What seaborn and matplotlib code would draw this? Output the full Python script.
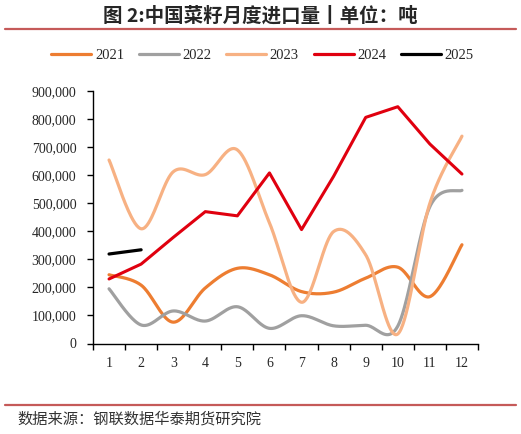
import numpy as np
import pandas as pd
import matplotlib
matplotlib.use("Agg")
import matplotlib.pyplot as plt
from matplotlib.ticker import FuncFormatter, FixedLocator
from matplotlib.lines import Line2D
import seaborn as sns

# ---- data ----
months = list(range(1, 13))
month_labels = [str(m) for m in months]
v2021 = [245000, 208000, 76000, 198000, 268000, 245000, 185000, 183000, 233000, 272000, 167000, 352000]
v2022 = [195000, 66000, 116000, 80000, 131000, 54000, 99000, 63000, 65000, 62000, 488000, 546000]
v2023 = [654000, 409000, 612000, 602000, 690000, 430000, 147000, 399000, 316000, 34000, 500000, 739000]
v2024 = [230000, 283000, 378000, 470000, 455000, 608000, 406000, 596000, 806000, 844000, 711000, 604000]
v2025 = [319000, 334000]
series_names = ["2021", "2022", "2023", "2024", "2025"]
y_ticks = list(range(0, 900001, 100000))

colors = {"2021": "#ED7D31", "2022": "#A0A0A0", "2023": "#F7B183",
          "2024": "#E0000F", "2025": "#000000"}


def smooth(x, y, n=40):
    """Excel-style smoothed line (Catmull-Rom Bezier) through the points."""
    pts = np.column_stack([np.asarray(x, float), np.asarray(y, float)])
    P = np.vstack([pts[0], pts, pts[-1]])
    xs, ys = [], []
    for i in range(len(pts) - 1):
        p0, p1, p2, p3 = P[i], P[i + 1], P[i + 2], P[i + 3]
        c1 = p1 + (p2 - p0) / 6.0
        c2 = p2 - (p3 - p1) / 6.0
        t = np.linspace(0, 1, n)[:, None]
        if i < len(pts) - 2:
            t = t[:-1]
        B = ((1 - t) ** 3) * p1 + 3 * ((1 - t) ** 2) * t * c1 + 3 * (1 - t) * t ** 2 * c2 + t ** 3 * p2
        xs.append(B[:, 0]); ys.append(B[:, 1])
    return np.concatenate(xs), np.concatenate(ys)


sns.set_style("white")
plt.rcParams["font.family"] = ["Liberation Serif", "Noto Sans CJK SC"]

fig = plt.figure(figsize=(5.21, 4.34), dpi=100)
ax = fig.add_axes([93 / 521, 1 - 343.5 / 434, (478 - 93) / 521, (343.5 - 91) / 434])

smooth_series = {"2021": v2021, "2022": v2022, "2023": v2023}
for name in ["2021", "2022", "2023"]:
    sx, sy = smooth(months, smooth_series[name])
    df = pd.DataFrame({"x": sx, "y": sy})
    sns.lineplot(data=df, x="x", y="y", ax=ax, color=colors[name], lw=2.3,
                 sort=False, estimator=None)

df24 = pd.DataFrame({"x": months, "y": v2024})
sns.lineplot(data=df24, x="x", y="y", ax=ax, color=colors["2024"], lw=2.2,
             sort=False, estimator=None)
df25 = pd.DataFrame({"x": months[:len(v2025)], "y": v2025})
sns.lineplot(data=df25, x="x", y="y", ax=ax, color=colors["2025"], lw=2.3,
             sort=False, estimator=None)

ax.set_xlim(0.5, 12.5)
ax.set_ylim(0, 900000)
ax.set_xlabel("")
ax.set_ylabel("")
for s in ["top", "right"]:
    ax.spines[s].set_visible(False)
for s in ["left", "bottom"]:
    ax.spines[s].set_color("black")
    ax.spines[s].set_linewidth(1.0)

ax.yaxis.set_major_locator(FixedLocator(y_ticks))
ax.yaxis.set_major_formatter(FuncFormatter(lambda v, p: f"{v:,.0f}"))
ax.tick_params(axis="y", direction="out", length=4, width=1, color="black",
               labelsize=10, pad=8, left=True)

ax.xaxis.set_major_locator(FixedLocator([m - 0.5 for m in months] + [12.5]))
ax.xaxis.set_minor_locator(FixedLocator(months))
ax.set_xticklabels([], minor=False)
ax.set_xticklabels(month_labels, minor=True)
ax.tick_params(axis="x", which="major", direction="out", length=4, width=1,
               color="black", bottom=True)
ax.tick_params(axis="x", which="minor", length=0, labelsize=10, pad=10, bottom=True)
ax.grid(False)

# legend
handles = [Line2D([0], [0], color=colors[n], lw=2.3) for n in series_names]
fig.legend(handles, series_names, loc="center", bbox_to_anchor=(262.5 / 521, 1 - 55 / 434),
           ncol=5, frameon=False, handlelength=2.75, handletextpad=0.25,
           columnspacing=1.0, prop={"family": "Liberation Serif", "size": 10.5})

# title and decorations
fig.text(0.5, 1 - 16 / 434, "图 2:中国菜籽月度进口量丨单位：吨", ha="center", va="center",
         fontsize=14, fontweight="bold", family=["Noto Sans CJK SC", "DejaVu Sans"])
fig.add_artist(Line2D([5 / 521, 516 / 521], [1 - 29 / 434, 1 - 29 / 434], color="#C55A59", lw=1.6))
fig.add_artist(Line2D([5 / 521, 516 / 521], [1 - 404.5 / 434, 1 - 404.5 / 434], color="#C55A59", lw=1.6))
fig.text(17 / 521, 1 - 419 / 434, "数据来源：钢联数据华泰期货研究院", ha="left", va="center",
         fontsize=11, color="#333333", family=["Noto Sans CJK SC", "DejaVu Sans"])

fig.savefig("out.png", dpi=100)
